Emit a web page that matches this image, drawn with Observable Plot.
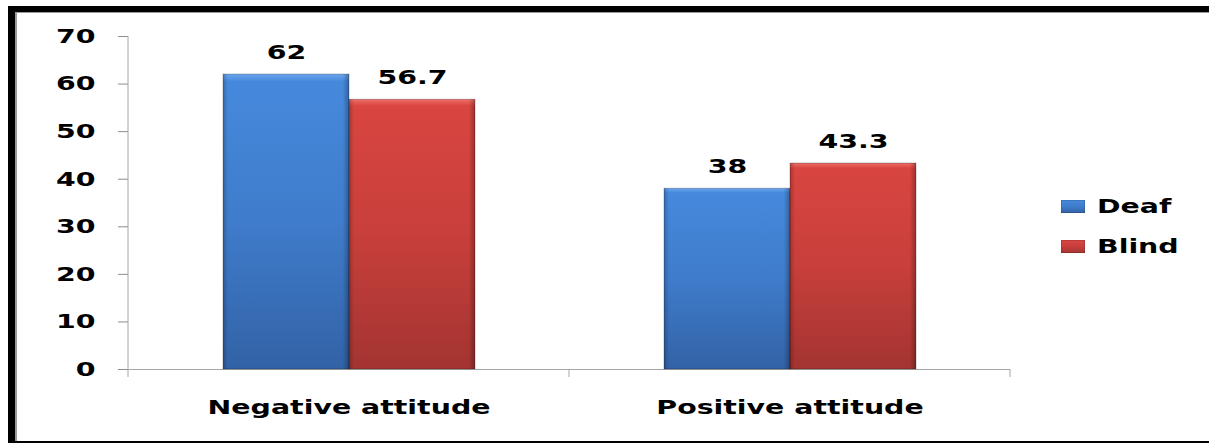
<!DOCTYPE html>
<html>
<head>
<meta charset="utf-8">
<script src="https://cdn.jsdelivr.net/npm/d3@7"></script>
<script src="https://cdn.jsdelivr.net/npm/@observablehq/plot@0.6"></script>
<style>
  html, body { margin: 0; padding: 0; background: #fff; overflow: hidden; }
  #wrap { position: relative; width: 1209px; height: 443px; overflow: hidden; background: #fff; }
  #chart { position: absolute; left: 0; top: 0; }
  #frame { position: absolute; left: 8px; top: 6px; width: 1300px; height: 437px; box-sizing: border-box;
           border-left: 7px solid #000; border-top: 6px solid #000; border-bottom: 2px solid #000;
           box-shadow: inset 2px 1px 0 #9a9a9a; pointer-events: none; }
  #legend { position: absolute; left: 1061px; top: 199px; font-family: "DejaVu Sans", sans-serif; font-weight: bold; font-size: 20px; color: #000; }
  .row { display: flex; align-items: center; height: 14px; margin-bottom: 26px; }
  .row svg { margin-right: 12px; flex: none; }
  .row span { display: inline-block; transform: scaleX(1.42); transform-origin: left center; line-height: 14px; }
</style>
</head>
<body>
<svg width="0" height="0" style="position:absolute;left:0;top:0">
  <defs>
    <linearGradient id="gDeaf" x1="0" y1="0" x2="0" y2="1">
      <stop offset="0" stop-color="#6aa6ee"/>
      <stop offset="0.025" stop-color="#4689dc"/>
      <stop offset="0.5" stop-color="#3f7ccb"/>
      <stop offset="1" stop-color="#3262a6"/>
    </linearGradient>
    <linearGradient id="gBlind" x1="0" y1="0" x2="0" y2="1">
      <stop offset="0" stop-color="#ee6e69"/>
      <stop offset="0.025" stop-color="#d94541"/>
      <stop offset="0.5" stop-color="#c83f3b"/>
      <stop offset="1" stop-color="#a33431"/>
    </linearGradient>
    <linearGradient id="gEdge" x1="0" y1="0" x2="1" y2="0">
      <stop offset="0" stop-color="#000" stop-opacity="0.22"/>
      <stop offset="0.04" stop-color="#000" stop-opacity="0"/>
      <stop offset="0.95" stop-color="#000" stop-opacity="0"/>
      <stop offset="1" stop-color="#000" stop-opacity="0.28"/>
    </linearGradient>
  </defs>
</svg>
<div id="wrap">
  <div id="chart"></div>
  <div id="legend"></div>
  <div id="frame"></div>
</div>
<script>
const categories = ["Negative attitude", "Positive attitude"];
const series = ["Deaf", "Blind"];
const deafValues = [62, 38];
const blindValues = [56.7, 43.3];
const yTicks = [0, 10, 20, 30, 40, 50, 60, 70];
const seriesFills = ["url(#gDeaf)", "url(#gBlind)"];

const data = categories.flatMap((c, i) => [
  {category: c, series: series[0], value: deafValues[i]},
  {category: c, series: series[1], value: blindValues[i]}
]);

const chart = Plot.plot({
  width: 1209,
  height: 443,
  marginLeft: 127,
  marginRight: 199,
  marginTop: 36,
  marginBottom: 74,
  style: {fontFamily: "DejaVu Sans", fontSize: "20px", fontWeight: "bold", background: "transparent", color: "#000", overflow: "visible"},
  fx: {domain: categories, padding: 0, label: null},
  x: {domain: series, paddingInner: 0, paddingOuter: 0.75, axis: null},
  y: {domain: [0, 70], label: null},
  color: {domain: series, range: seriesFills},
  marks: [
    Plot.axisY({ticks: yTicks, tickSize: 10, tickPadding: 23, stroke: "#8c8c8c", label: null, tickFormat: d => String(d)}),
    Plot.axisFx({anchor: "bottom", tickSize: 0, tickPadding: 30, label: null}),
    Plot.ruleY([0], {stroke: "#a6a6a6"}),
    Plot.barY(data, {fx: "category", x: "series", y: "value", fill: "series", stroke: "rgba(0,0,0,0.25)", strokeWidth: 1}),
    Plot.barY(data, {fx: "category", x: "series", y: "value", fill: "url(#gEdge)"}),
    Plot.text(data, {fx: "category", x: "series", y: "value", text: d => String(d.value), dy: -22})
  ]
});
document.getElementById("chart").appendChild(chart);

// axis line and category boundary ticks from the library's scales
const fxs = chart.scale("fx"), ys = chart.scale("y");
const y0 = ys.apply(0), yTop = ys.apply(70);
const edges = categories.map(c => fxs.apply(c)).concat([fxs.apply(categories[categories.length - 1]) + fxs.bandwidth]);
const svg = d3.select(chart);
const g = svg.append("g").attr("stroke", "#a6a6a6").attr("stroke-width", 1);
g.append("line").attr("x1", edges[0]).attr("x2", edges[0]).attr("y1", yTop).attr("y2", y0 + 8);
g.selectAll("line.t").data(edges.slice(1)).join("line").attr("class", "t")
  .attr("x1", d => d).attr("x2", d => d).attr("y1", y0).attr("y2", y0 + 8);

// horizontally stretched text like the original
svg.selectAll("text").each(function() {
  const L = this.getComputedTextLength();
  if (L > 0) {
    this.setAttribute("textLength", (L * 1.42).toFixed(1));
    this.setAttribute("lengthAdjust", "spacingAndGlyphs");
  }
});

// legend
const color = chart.scale("color");
const legend = d3.select("#legend");
series.forEach(s => {
  const row = legend.append("div").attr("class", "row");
  const sw = row.append("svg").attr("width", 24).attr("height", 13);
  sw.append("rect").attr("width", 24).attr("height", 13).attr("fill", color.apply(s)).attr("stroke", "rgba(0,0,0,0.25)");
  row.append("span").text(s);
});
</script>
</body>
</html>
